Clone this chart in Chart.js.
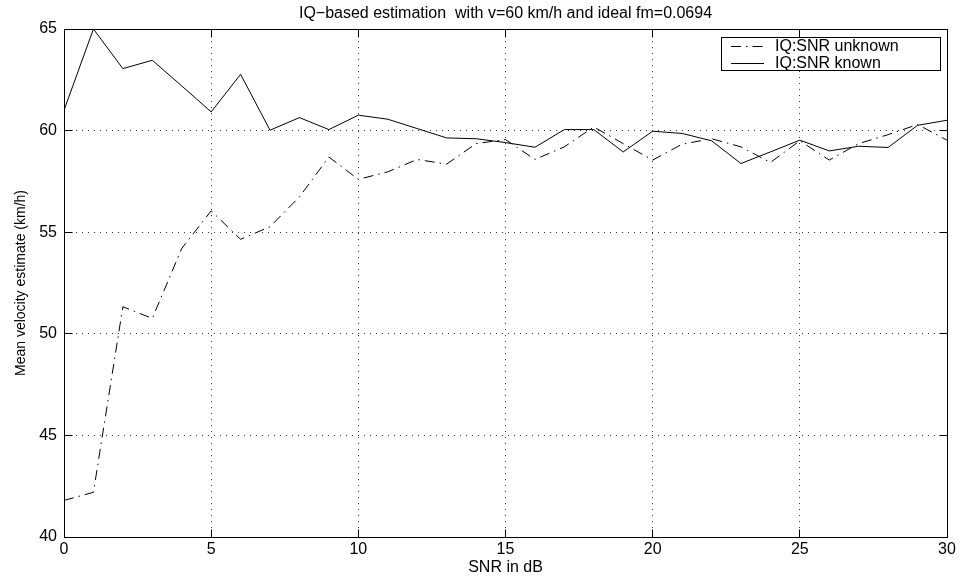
<html>
<head>
  <title>IQ-based estimation</title>
  <style>
    html, body { margin: 0; padding: 0; background: #fff; }
    #wrap { width: 961px; height: 580px; }
  </style>
</head>
<body>
<div id="wrap">
  <canvas id="myChart" width="961" height="580"></canvas>
</div>

<script src="https://cdn.jsdelivr.net/npm/chart.js"></script>

<script>
  // SNR in dB (x axis)
  const snr = [0,1,2,3,4,5,6,7,8,9,10,11,12,13,14,15,16,17,18,19,20,21,22,23,24,25,26,27,28,29,30];
  // mean velocity estimate, km/h
  const snrUnknown = [41.8, 42.2, 51.33, 50.76, 54.2, 56.05, 54.65, 55.27, 56.74, 58.7, 57.6,
                      57.97, 58.58, 58.35, 59.36, 59.56, 58.58, 59.2, 60.18, 59.36, 58.55,
                      59.33, 59.6, 59.2, 58.43, 59.5, 58.55, 59.36, 59.8, 60.3, 59.53];
  const snrKnown = [61.0, 65.0, 63.05, 63.46, 62.2, 60.92, 62.77, 60.02, 60.64, 60.05, 60.76,
                    60.56, 60.1, 59.64, 59.6, 59.41, 59.18, 60.05, 60.05, 58.95, 59.97,
                    59.86, 59.5, 58.38, 58.95, 59.53, 59.0, 59.23, 59.17, 60.26, 60.51];
  const seriesLabels = ['IQ:SNR unknown', 'IQ:SNR known'];
  const xTicks = [0, 5, 10, 15, 20, 25, 30];
  const yTicks = [40, 45, 50, 55, 60, 65];

  const FONT = '"Liberation Sans", Arial, Helvetica, sans-serif';
  const dashDot = [10, 5, 1.5, 5];

  const toPoints = ys => snr.map((x, i) => ({x: x, y: ys[i]}));

  function align(p) { return Math.round(p - 0.5) + 0.5; }

  // black frame + inward tick marks like matlab axes
  const frame = {
    id: 'frame',
    afterDraw(chart) {
      const {ctx, chartArea: a, scales: {x, y}} = chart;
      const L = align(a.left), R = align(a.right), T = align(a.top), B = align(a.bottom);
      ctx.save();
      ctx.strokeStyle = '#000';
      ctx.lineWidth = 1;
      ctx.setLineDash([]);
      ctx.beginPath();
      xTicks.forEach(v => {
        const px = align(x.getPixelForValue(v));
        ctx.moveTo(px, B); ctx.lineTo(px, B - 8);
        ctx.moveTo(px, T); ctx.lineTo(px, T + 8);
      });
      yTicks.forEach(v => {
        const py = align(y.getPixelForValue(v));
        ctx.moveTo(L, py); ctx.lineTo(L + 8, py);
        ctx.moveTo(R, py); ctx.lineTo(R - 8, py);
      });
      ctx.stroke();
      ctx.strokeRect(L, T, R - L, B - T);
      ctx.restore();
    }
  };

  // boxed legend in the top right corner
  const boxLegend = {
    id: 'boxLegend',
    afterDraw(chart) {
      const ctx = chart.ctx;
      ctx.save();
      ctx.fillStyle = '#fff';
      ctx.fillRect(721.5, 37.5, 219, 33);
      ctx.strokeStyle = '#000';
      ctx.lineWidth = 1;
      ctx.strokeRect(721.5, 37.5, 219, 33);
      chart.data.datasets.forEach((ds, i) => {
        const yy = 46 + i * 17 + 0.5;
        ctx.setLineDash(ds.borderDash || []);
        ctx.beginPath();
        ctx.moveTo(731, yy);
        ctx.lineTo(764, yy);
        ctx.stroke();
        ctx.setLineDash([]);
        ctx.fillStyle = '#000';
        ctx.font = '16px ' + FONT;
        ctx.textBaseline = 'middle';
        ctx.textAlign = 'left';
        ctx.fillText(ds.label, 775, yy);
      });
      ctx.restore();
    }
  };

  const ctx = document.getElementById('myChart');
  new Chart(ctx, {
    type: 'line',
    data: {
      datasets: [{
        label: seriesLabels[0],
        data: toPoints(snrUnknown),
        borderColor: '#000',
        borderWidth: 1,
        borderDash: dashDot,
        pointRadius: 0,
        tension: 0
      }, {
        label: seriesLabels[1],
        data: toPoints(snrKnown),
        borderColor: '#000',
        borderWidth: 1,
        pointRadius: 0,
        tension: 0
      }]
    },
    options: {
      responsive: false,
      animation: false,
      layout: { padding: { left: 0, right: 14, top: 0, bottom: 0 } },
      plugins: {
        legend: { display: false },
        tooltip: { enabled: false },
        title: {
          display: true,
          fullSize: false,
          text: 'IQ\u2212based estimation  with v=60 km/h and ideal fm=0.0694',
          color: '#000',
          font: { family: FONT, size: 16, weight: 'normal' },
          padding: { top: 3.5, bottom: 6.3 }
        }
      },
      scales: {
        x: {
          type: 'linear',
          min: 0, max: 30,
          afterFit: s => { s.height = 43; },
          afterBuildTicks: s => { s.ticks = xTicks.map(v => ({value: v})); },
          ticks: { color: '#000', padding: 3, maxRotation: 0, font: { family: FONT, size: 16 } },
          grid: { color: '#333', lineWidth: 1, drawTicks: false },
          border: { display: false, dash: [1, 5] },
          title: {
            display: true, text: 'SNR in dB', color: '#000',
            font: { family: FONT, size: 16 },
            padding: { top: 2.4, bottom: 2.4 }
          }
        },
        y: {
          min: 40, max: 65,
          afterFit: s => { s.width = 64; },
          afterBuildTicks: s => { s.ticks = yTicks.map(v => ({value: v})); },
          ticks: { color: '#000', padding: 7, font: { family: FONT, size: 16 } },
          grid: { color: '#333', lineWidth: 1, drawTicks: false },
          border: { display: false, dash: [1, 5] },
          title: {
            display: true, text: 'Mean velocity estimate (km/h)', color: '#000',
            font: { family: FONT, size: 14 },
            padding: { top: 12.6, bottom: 12.6 }
          }
        }
      }
    },
    plugins: [frame, boxLegend]
  });
</script>

</body>
</html>
